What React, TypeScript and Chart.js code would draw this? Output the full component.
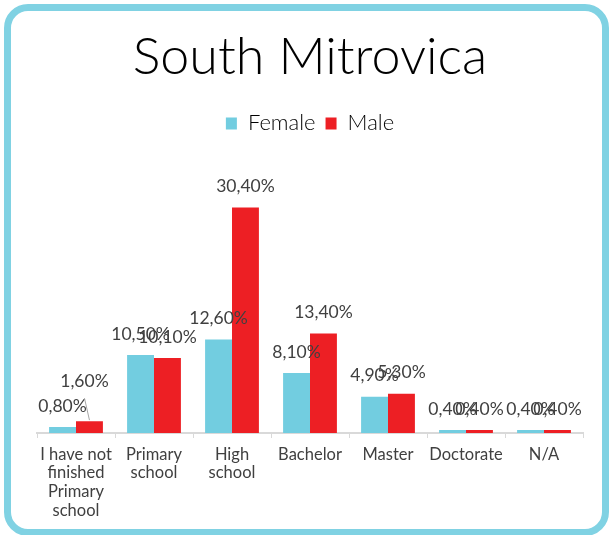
import React, { useEffect, useRef } from "react";
import { Chart, registerables } from "chart.js";

Chart.register(...registerables);

const categories: (string | string[])[] = [
  ["I have not", "finished", "Primary", "school"],
  ["Primary", "school"],
  ["High", "school"],
  "Bachelor",
  "Master",
  "Doctorate",
  "N/A",
];
const seriesNames = ["Female", "Male"];
const femaleValues = [0.8, 10.5, 12.6, 8.1, 4.9, 0.4, 0.4];
const maleValues = [1.6, 10.1, 30.4, 13.4, 5.3, 0.4, 0.4];
const titleText = "South Mitrovica";

const FEMALE_COLOR = "#72CDE0";
const MALE_COLOR = "#ED1F24";
const FONT = "Lato";

// style: manual nudge for a crowded label (dataset index, point index, dx, dy)
const labelNudges = [{ dataset: 1, index: 0, dx: -5, dy: -19, leader: true }];

const formatPct = (v: number) => v.toFixed(2).replace(".", ",") + "%";

const dataLabelPlugin = {
  id: "dataLabels",
  afterDatasetsDraw(chart: any) {
    const ctx = chart.ctx;
    ctx.save();
    ctx.font = `400 17.5px ${FONT}`;
    ctx.fillStyle = "#404040";
    ctx.textAlign = "center";
    ctx.textBaseline = "middle";
    chart.data.datasets.forEach((ds: any, di: number) => {
      const meta = chart.getDatasetMeta(di);
      meta.data.forEach((bar: any, i: number) => {
        let x = bar.x;
        let y = bar.y - 21;
        const n = labelNudges.find((k) => k.dataset === di && k.index === i);
        if (n) {
          x += n.dx;
          y += n.dy;
          if (n.leader) {
            ctx.save();
            ctx.strokeStyle = "#A6A6A6";
            ctx.lineWidth = 1;
            ctx.beginPath();
            ctx.moveTo(x, y + 17);
            ctx.lineTo(bar.x, bar.y - 1);
            ctx.stroke();
            ctx.restore();
          }
        }
        ctx.fillText(formatPct(ds.data[i]), x, y);
      });
    });
    ctx.restore();
  },
};

export default function App() {
  const ref = useRef<HTMLCanvasElement>(null);
  useEffect(() => {
    const chart = new Chart(ref.current!, {
      type: "bar",
      data: {
        labels: categories,
        datasets: [
          {
            label: seriesNames[0],
            data: femaleValues,
            backgroundColor: FEMALE_COLOR,
            categoryPercentage: 0.69,
            barPercentage: 1,
          },
          {
            label: seriesNames[1],
            data: maleValues,
            backgroundColor: MALE_COLOR,
            categoryPercentage: 0.69,
            barPercentage: 1,
          },
        ],
      },
      options: {
        responsive: false,
        animation: false,
        devicePixelRatio: 1,
        layout: { padding: { left: 37, right: 27, top: 0, bottom: 0 } },
        plugins: {
          title: {
            display: true,
            text: titleText,
            color: "#000000",
            font: { family: FONT, size: 52, weight: 300 as any, lineHeight: 1.2 },
            padding: { top: 26, bottom: 14 },
          },
          legend: {
            display: true,
            labels: {
              boxWidth: 11,
              boxHeight: 12,
              color: "#000000",
              font: { family: FONT, size: 22, weight: 300 as any },
              padding: 10,
            },
          },
          tooltip: { enabled: false },
        },
        scales: {
          x: {
            grid: {
              display: true,
              drawOnChartArea: false,
              drawTicks: true,
              tickLength: 5,
              offset: true,
              color: "#D9D9D9",
              lineWidth: 1,
            },
            border: { display: true, color: "#D9D9D9", width: 2 },
            ticks: {
              color: "#404040",
              font: { family: FONT, size: 16.5, lineHeight: 1.13 },
              maxRotation: 0,
              autoSkip: false,
              padding: 7,
            },
            afterFit: (s: any) => {
              s.height = 102;
            },
          },
          y: { display: false, min: 0, max: 38.9 },
        },
      },
      plugins: [dataLabelPlugin],
    });
    return () => chart.destroy();
  }, []);

  return (
    <div
      style={{
        position: "fixed",
        left: 0,
        top: 0,
        width: 610,
        height: 535,
        overflow: "hidden",
        background: "#ffffff",
      }}
    >
      <div
        style={{
          position: "absolute",
          left: 4,
          top: 4,
          width: 605,
          height: 532,
          border: "7px solid #80D2E3",
          borderRadius: 24,
          boxSizing: "border-box",
          background: "#ffffff",
        }}
      />
      <canvas
        ref={ref}
        width={610}
        height={535}
        style={{ position: "absolute", left: 0, top: 0, width: 610, height: 535 }}
      />
    </div>
  );
}
